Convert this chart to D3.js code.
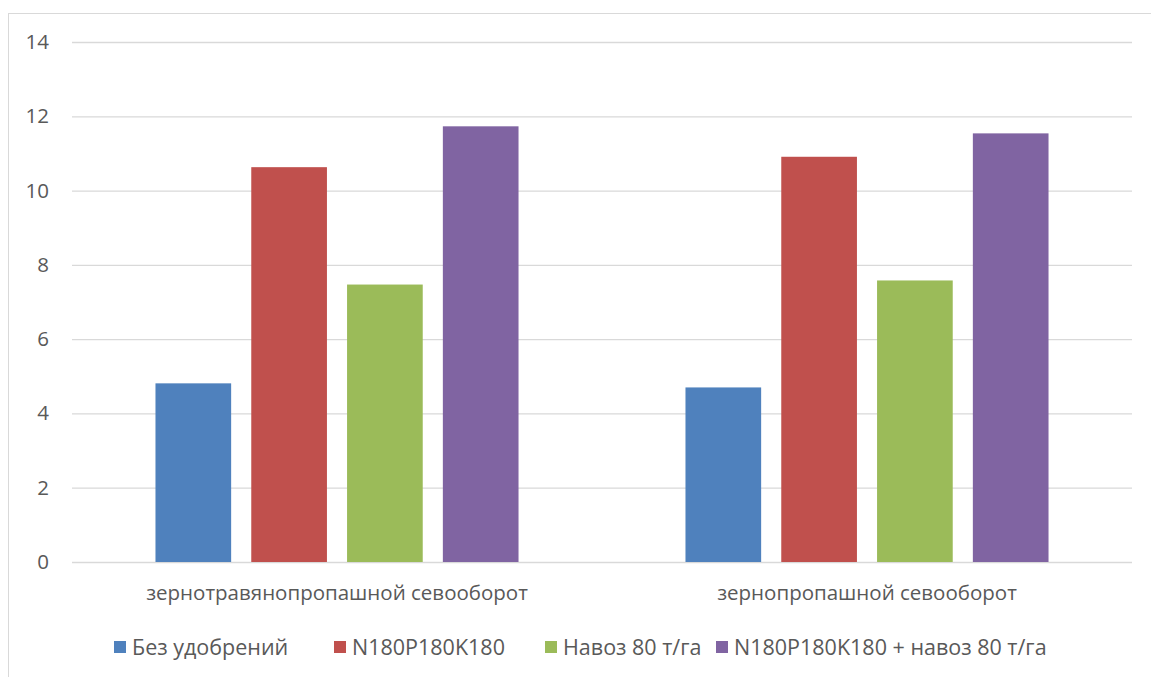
<!DOCTYPE html>
<html>
<head>
<meta charset="utf-8">
<script src="https://cdn.jsdelivr.net/npm/d3@7"></script>
<style>
    body { margin: 0; background: #fff; }
    text { font-family: "Open Sans", sans-serif; fill: #595959; }
</style>
</head>
<body>
<div id="chart"></div>
<script>
const categories = ['зернотравянопропашной севооборот', 'зернопропашной севооборот'];
const seriesNames = ['Без удобрений', 'N180P180K180', 'Навоз 80 т/га', 'N180P180K180 + навоз 80 т/га'];
const seriesColors = ['#4f81bd', '#c0504d', '#9bbb59', '#8064a2'];
const values = [
    [4.81, 10.63, 7.47, 11.73],
    [4.70, 10.91, 7.58, 11.54]
];
const yTicks = [0, 2, 4, 6, 8, 10, 12, 14];

const width = 1151, height = 677;
const margin = {top: 42, right: 19, bottom: 115, left: 72};
const fontSize = 20.5;

const svg = d3.select('#chart')
    .append('svg')
        .attr('width', width)
        .attr('height', height);

// chart frame, runs off the right and bottom edges
svg.append('rect')
    .attr('x', 8.5).attr('y', 13.5)
    .attr('width', width + 10).attr('height', height + 10)
    .attr('fill', 'none')
    .attr('stroke', '#d9d9d9');

const x0 = d3.scaleBand()
    .domain(categories)
    .range([margin.left, width - margin.right]);

const inset = x0.bandwidth() * 0.1575;
const x1 = d3.scaleBand()
    .domain(d3.range(seriesNames.length))
    .range([inset, x0.bandwidth() - inset])
    .paddingInner(0.21);

const y = d3.scaleLinear()
    .domain([0, 14])
    .range([height - margin.bottom, margin.top]);

// gridlines + tick labels
const grid = svg.append('g')
    .call(d3.axisLeft(y).tickValues(yTicks).tickSize(-(width - margin.left - margin.right)).tickPadding(23))
    .attr('transform', `translate(${margin.left},0)`);
grid.select('.domain').remove();
grid.selectAll('.tick line').attr('stroke', '#d9d9d9').attr('stroke-width', 1.3);
grid.selectAll('.tick text').attr('font-size', fontSize).attr('fill', '#595959');

// bars
svg.append('g')
    .selectAll('g')
    .data(values)
    .enter()
    .append('g')
    .attr('transform', (d, i) => `translate(${x0(categories[i])},0)`)
    .selectAll('rect')
    .data(d => d)
    .enter()
    .append('rect')
    .attr('x', (d, j) => x1(j))
    .attr('y', d => y(d))
    .attr('width', x1.bandwidth())
    .attr('height', d => y(0) - y(d))
    .attr('fill', (d, j) => seriesColors[j]);

// category labels
svg.append('g')
    .selectAll('text')
    .data(categories)
    .enter()
    .append('text')
    .attr('x', d => x0(d) + x0.bandwidth() / 2)
    .attr('y', 600)
    .attr('text-anchor', 'middle')
    .attr('font-size', fontSize)
    .text(d => d);

// legend
const legendX = [114, 334, 545, 716];
const legend = svg.append('g')
    .selectAll('g')
    .data(seriesNames)
    .enter()
    .append('g')
    .attr('transform', (d, i) => `translate(${legendX[i]},641)`);

legend.append('rect')
    .attr('width', 12).attr('height', 12)
    .attr('fill', (d, i) => seriesColors[i]);

legend.append('text')
    .attr('x', 18)
    .attr('y', 14)
    .attr('font-size', 21.5)
    .text(d => d);
</script>
</body>
</html>
